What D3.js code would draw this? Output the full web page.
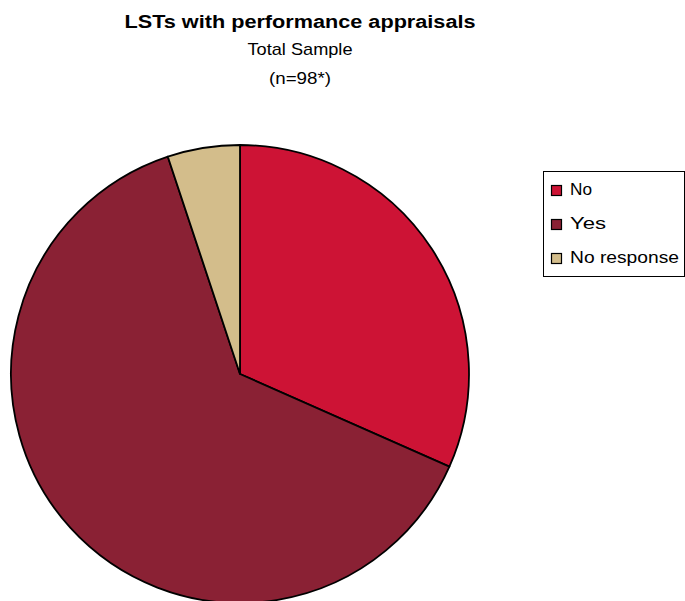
<!DOCTYPE html>
<html>
<head>
<meta charset="utf-8">
<script src="https://cdn.jsdelivr.net/npm/d3@7"></script>
<style>
  html, body { margin: 0; padding: 0; background: #fff; }
  svg { display: block; }
  text { font-family: "Liberation Sans", Arial, sans-serif; fill: #000; }
</style>
</head>
<body>
<svg id="chart" width="685" height="601"></svg>
<script>
// Responses, in drawing order clockwise from 12 o'clock
const categories = ["No", "Yes", "No response"];
const counts = [31, 62, 5];
const colors = ["#CD1335", "#8A2134", "#D3BD8B"];
const titleLines = ["LSTs with performance appraisals", "Total Sample", "(n=98*)"];

const svg = d3.select("#chart");
const W = 685, H = 601;
svg.append("rect").attr("width", W).attr("height", H).attr("fill", "#fff");

// Titles
const titleSpec = [
  { y: 28, size: 18, weight: "bold", len: 351 },
  { y: 55, size: 17, weight: "normal", len: 105 },
  { y: 84, size: 17, weight: "normal", len: 62 }
];
titleLines.forEach((t, i) => {
  const s = titleSpec[i];
  svg.append("text")
    .attr("x", 300).attr("y", s.y)
    .attr("text-anchor", "middle")
    .attr("font-size", s.size)
    .attr("font-weight", s.weight)
    .attr("textLength", s.len)
    .attr("lengthAdjust", "spacingAndGlyphs")
    .text(t);
});

// Pie
const cx = 240, cy = 374, r = 229;
const data = categories.map((c, i) => ({ cat: c, value: counts[i], color: colors[i] }));
const pie = d3.pie().value(d => d.value).sort(null).startAngle(0).endAngle(2 * Math.PI);
const arc = d3.arc().innerRadius(0).outerRadius(r);
const color = d3.scaleOrdinal().domain(categories).range(colors);

const g = svg.append("g").attr("transform", `translate(${cx},${cy})`);
g.selectAll("path.slice")
  .data(pie(data))
  .join("path")
  .attr("class", "slice")
  .attr("d", arc)
  .attr("fill", d => color(d.data.cat))
  .attr("stroke", "#000")
  .attr("stroke-width", 1.8)
  .attr("stroke-linejoin", "round");

// Legend
const legend = svg.append("g");
legend.append("rect")
  .attr("x", 543.5).attr("y", 171.5)
  .attr("width", 141).attr("height", 105)
  .attr("fill", "#fff").attr("stroke", "#000").attr("stroke-width", 1);

const textLens = [22, 36, 109];
const items = legend.selectAll("g.item")
  .data(categories)
  .join("g")
  .attr("class", "item")
  .attr("transform", (d, i) => `translate(551, ${185 + i * 34})`);
items.append("rect")
  .attr("x", 0.5).attr("y", 0.5)
  .attr("width", 10).attr("height", 10)
  .attr("fill", d => color(d))
  .attr("stroke", "#000").attr("stroke-width", 1.2);
items.append("text")
  .attr("x", 19).attr("y", 10)
  .attr("font-size", 17)
  .attr("textLength", (d, i) => textLens[i])
  .attr("lengthAdjust", "spacingAndGlyphs")
  .text(d => d);
</script>
</body>
</html>
